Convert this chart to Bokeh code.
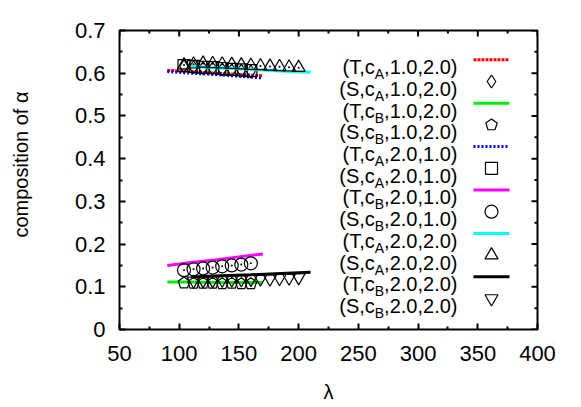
from bokeh.plotting import figure
from bokeh.models import Range1d, FixedTicker, Label, LinearAxis
from bokeh.embed import file_html
from bokeh.resources import INLINE

# ---------------- data ----------------
lam_T1 = [90, 110, 130, 150, 170]
lam_T2 = [110, 135, 160, 185, 210]
lam_S1 = [104, 112, 120, 128, 136, 144, 152, 160]
lam_S2 = [104, 112, 120, 128, 136, 144, 152, 160, 168, 176, 184, 192, 200]
lam_S2b = [112, 120, 128, 136, 144, 152, 160, 168, 176, 184, 192, 200]

T_cA_12 = [0.607, 0.604, 0.600, 0.597, 0.594]
S_cA_12 = [0.616, 0.614, 0.612, 0.611, 0.609, 0.607, 0.606, 0.604]
T_cB_12 = [0.111, 0.111, 0.110, 0.110, 0.110]
S_cB_12 = [0.109, 0.108, 0.108, 0.108, 0.107, 0.108, 0.107, 0.107]
T_cA_21 = [0.604, 0.600, 0.597, 0.593, 0.589]
S_cA_21 = [0.618, 0.616, 0.614, 0.613, 0.611, 0.609, 0.608, 0.606]
T_cB_21 = [0.150, 0.157, 0.163, 0.170, 0.177]
S_cB_21 = [0.139, 0.141, 0.143, 0.145, 0.148, 0.150, 0.152, 0.155]
T_cA_22 = [0.616, 0.612, 0.609, 0.605, 0.602]
S_cA_22 = [0.619, 0.621, 0.623, 0.622, 0.621, 0.620, 0.619, 0.618,
           0.617, 0.616, 0.615, 0.614, 0.613]
T_cB_22 = [0.123, 0.126, 0.128, 0.131, 0.134]
S_cB_22 = [0.114, 0.115, 0.115, 0.116, 0.117, 0.117, 0.118, 0.119,
           0.119, 0.120, 0.121, 0.122]

legend_heads = ["(T,c", "(S,c", "(T,c", "(S,c", "(T,c", "(S,c",
                "(T,c", "(S,c", "(T,c", "(S,c", "(T,c", "(S,c"]
legend_subs = ["A", "A", "B", "B", "A", "A", "B", "B", "A", "A", "B", "B"]
legend_tails = [",1.0,2.0)", ",1.0,2.0)", ",1.0,2.0)", ",1.0,2.0)",
                ",2.0,1.0)", ",2.0,1.0)", ",2.0,1.0)", ",2.0,1.0)",
                ",2.0,2.0)", ",2.0,2.0)", ",2.0,2.0)", ",2.0,2.0)"]

x_ticks = [50, 100, 150, 200, 250, 300, 350, 400]
x_minor = [75, 125, 175, 225, 275, 325, 375]
y_ticks = [0, 0.1, 0.2, 0.3, 0.4, 0.5, 0.6, 0.7]
y_minor = [0.05, 0.15, 0.25, 0.35, 0.45, 0.55, 0.65]
y_tick_labels = {0: "0", 0.1: "0.1", 0.2: "0.2", 0.3: "0.3", 0.4: "0.4",
                 0.5: "0.5", 0.6: "0.6", 0.7: "0.7"}

x_label = "λ"
y_label = "composition of α"

# ---------------- styles ----------------
series = [
    ("line", lam_T1, T_cA_12, dict(line_color="#ff0000", line_width=3, line_dash="3 1")),
    ("marker", lam_S1, S_cA_12, dict(marker="diamond", size=13)),
    ("line", lam_T1, T_cB_12, dict(line_color="#00ee00", line_width=3)),
    ("marker", lam_S1, S_cB_12, dict(marker="pentagon", size=12)),
    ("line", lam_T1, T_cA_21, dict(line_color="#0000ff", line_width=3, line_dash="2 2")),
    ("marker", lam_S1, S_cA_21, dict(marker="square", size=12)),
    ("line", lam_T1, T_cB_21, dict(line_color="#ff00ff", line_width=3)),
    ("marker", lam_S1, S_cB_21, dict(marker="circle", size=13, dot=True)),
    ("line", lam_T2, T_cA_22, dict(line_color="#00ffff", line_width=3)),
    ("marker", lam_S2, S_cA_22, dict(marker="triangle", size=13, dot=True)),
    ("line", lam_T2, T_cB_22, dict(line_color="#000000", line_width=3)),
    ("marker", lam_S2b, S_cB_22, dict(marker="inverted_triangle", size=13)),
]

FONT = "Liberation Sans"
FW, FH = 418, 299
XMIN, XMAX, YMIN, YMAX = 50, 400, 0, 0.7
PX_X = (XMAX - XMIN) / FW
PX_Y = (YMAX - YMIN) / FH

p = figure(frame_width=FW, frame_height=FH,
           min_border_left=119, min_border_top=30, min_border_right=43, min_border_bottom=77,
           x_range=Range1d(XMIN, XMAX), y_range=Range1d(YMIN, YMAX),
           output_backend="svg", toolbar_location=None,
           background_fill_color="white", border_fill_color="white")
p.xgrid.visible = False
p.ygrid.visible = False
p.outline_line_color = "black"
p.outline_line_width = 2
p.outline_line_alpha = 1

def style_axis(ax, standoff):
    ax.axis_line_color = None
    ax.major_tick_in = 6
    ax.major_tick_out = 0
    ax.minor_tick_in = 3
    ax.minor_tick_out = 0
    ax.major_tick_line_width = 2
    ax.minor_tick_line_width = 2
    ax.major_tick_line_color = "black"
    ax.minor_tick_line_color = "black"
    ax.major_label_text_font = FONT
    ax.major_label_text_color = "black"
    ax.major_label_text_font_size = "22px"
    ax.major_label_standoff = standoff

p.xaxis[0].ticker = FixedTicker(ticks=x_ticks, minor_ticks=x_minor)
p.yaxis[0].ticker = FixedTicker(ticks=y_ticks, minor_ticks=y_minor)
p.yaxis[0].major_label_overrides = y_tick_labels
style_axis(p.xaxis[0], 16)
style_axis(p.yaxis[0], 14)

p.xaxis[0].axis_label = x_label
p.xaxis[0].axis_label_text_font = FONT
p.xaxis[0].axis_label_text_font_size = "20px"
p.xaxis[0].axis_label_text_font_style = "normal"
p.xaxis[0].axis_label_text_color = "black"
p.xaxis[0].axis_label_standoff = 17

# y title: drawn as the single (rotated) label of an outer, tick-less left axis,
# so it can sit slightly above the frame centre like the original
YTITLE_POS = (FH - 134) * PX_Y      # 134 px below frame top
ytitle_axis = LinearAxis(ticker=FixedTicker(ticks=[YTITLE_POS], minor_ticks=[]),
                         major_label_overrides={YTITLE_POS: y_label},
                         major_label_orientation="vertical",
                         axis_line_color=None, major_tick_in=0, major_tick_out=0,
                         minor_tick_in=0, minor_tick_out=0,
                         major_tick_line_color=None, minor_tick_line_color=None,
                         major_label_standoff=40, major_label_text_font=FONT,
                         major_label_text_font_size="20px",
                         major_label_text_color="black")
p.add_layout(ytitle_axis, "left")

# mirrored ticks on top and right edges (derived from tick lists)
for ticks, ln in ((x_ticks, 6), (x_minor, 3)):
    p.segment(x0=ticks, y0=[YMAX] * len(ticks), x1=ticks,
              y1=[YMAX - ln * PX_Y] * len(ticks), line_color="black", line_width=2)
for ticks, ln in ((y_ticks, 6), (y_minor, 3)):
    p.segment(x0=[XMAX] * len(ticks), y0=ticks, x1=[XMAX - ln * PX_X] * len(ticks),
              y1=ticks, line_color="black", line_width=2)

def draw_marker(xs, ys, st, with_dot=True):
    mk = st["marker"]
    if mk == "pentagon":
        p.ngon(x=xs, y=ys, radius=st["size"] / 2, radius_units="screen", n=5,
               fill_color=None, line_color="black", line_width=1.2)
    else:
        p.scatter(x=xs, y=ys, marker=mk, size=st["size"], fill_color=None,
                  line_color="black", line_width=1.2)
    if with_dot and st.get("dot"):
        p.scatter(x=xs, y=ys, marker="circle", size=2, fill_color="black",
                  line_color=None)

for kind, xs, ys, st in series:
    if kind == "line":
        p.line(x=xs, y=ys, **st)
    else:
        draw_marker(xs, ys, st)

# ---------------- legend (manual, with subscripts) ----------------
ADV = {'(': 0.333, ')': 0.333, 'T': 0.611, 'S': 0.667, ',': 0.278, 'c': 0.5,
       'A': 0.667, 'B': 0.667, '0': 0.556, '1': 0.556, '2': 0.556, '.': 0.278}

def tw(s, size):
    return sum(ADV.get(ch, 0.556) for ch in s) * size

def fx(px):  # frame pixel (from left) -> data x
    return XMIN + px * PX_X

def fy(py):  # frame pixel (from bottom) -> data y
    return YMIN + py * PX_Y

TEXT_RIGHT = 338
LINE_X0, LINE_X1, MARK_X = 354, 390, 372
ROW0, ROW_STEP = 29.3, 21.7   # from frame top
MAIN, SUB = 20, 14

for i in range(12):
    row_y = FH - (ROW0 + ROW_STEP * i)
    base = row_y - 7.4
    tail, sub, head = legend_tails[i], legend_subs[i], legend_heads[i]
    p.add_layout(Label(x=TEXT_RIGHT, y=base, x_units="screen", y_units="screen",
                       text=tail, text_align="right", text_baseline="alphabetic",
                       text_font=FONT, text_font_size=f"{MAIN}px", text_color="black"))
    xs = TEXT_RIGHT - tw(tail, MAIN)
    p.add_layout(Label(x=xs, y=base - 7, x_units="screen", y_units="screen",
                       text=sub, text_align="right", text_baseline="alphabetic",
                       text_font=FONT, text_font_size=f"{SUB}px", text_color="black"))
    xh = xs - tw(sub, SUB)
    p.add_layout(Label(x=xh, y=base, x_units="screen", y_units="screen",
                       text=head, text_align="right", text_baseline="alphabetic",
                       text_font=FONT, text_font_size=f"{MAIN}px", text_color="black"))
    kind, _, _, st = series[i]
    if kind == "line":
        p.line(x=[fx(LINE_X0), fx(LINE_X1)], y=[fy(row_y), fy(row_y)], **st)
    else:
        draw_marker([fx(MARK_X)], [fy(row_y)], st, with_dot=False)

open("out.html", "w").write(file_html(p, INLINE))
